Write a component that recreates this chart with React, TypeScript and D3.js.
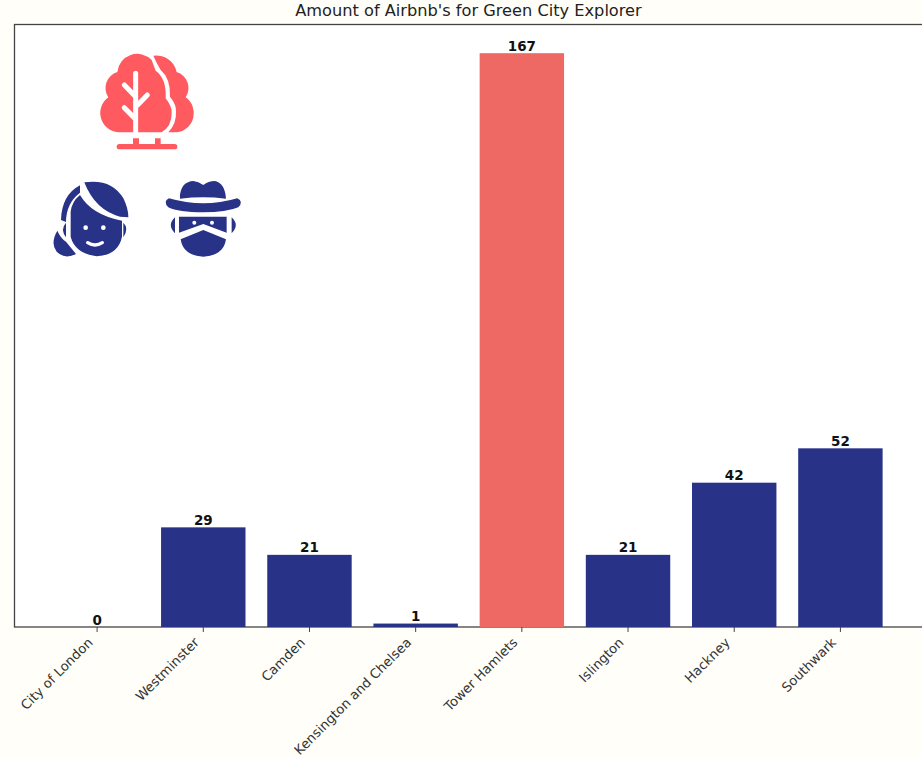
import * as d3 from 'd3';
import React, { useEffect, useRef } from 'react';

const boroughs = ['City of London', 'Westminster', 'Camden', 'Kensington and Chelsea', 'Tower Hamlets', 'Islington', 'Hackney', 'Southwark'];
const listings = [0, 29, 21, 1, 167, 21, 42, 52];
const highlighted = ['Tower Hamlets'];

const width = 922;
const height = 758;
const frame = { left: 14.5, top: 24.5, bottom: 627 };
const navy = '#283287';
const barRed = '#ee6864';
const iconRed = '#ff5a5f';
const font = '"DejaVu Sans", sans-serif';

const App: React.FC = () => {
  const svgRef = useRef<SVGSVGElement>(null);
  useEffect(() => {
    if (!svgRef.current) {
      return;
    }
    const svg = d3.select(svgRef.current);
    svg.selectAll('*').remove();

    const xScale = d3.scaleBand<string>().domain(boroughs).range([44, 893.5]).paddingInner(0.205).paddingOuter(0.1025);
    const yScale = d3.scaleLinear().domain([0, 175.35]).range([frame.bottom, frame.top]);

    svg.append('rect').attr('width', width).attr('height', height).attr('fill', '#fffef8');
    svg
      .append('rect')
      .attr('x', frame.left)
      .attr('y', frame.top)
      .attr('width', width - frame.left + 5)
      .attr('height', frame.bottom - frame.top)
      .attr('fill', '#ffffff')
      .attr('stroke', '#444444')
      .attr('stroke-width', 1.3);

    svg
      .selectAll('.bar')
      .data(listings)
      .enter()
      .append('rect')
      .attr('class', 'bar')
      .attr('x', (_, i) => xScale(boroughs[i])!)
      .attr('y', (d) => yScale(d))
      .attr('width', xScale.bandwidth())
      .attr('height', (d) => frame.bottom - yScale(d))
      .attr('fill', (_, i) => (highlighted.includes(boroughs[i]) ? barRed : navy));

    svg
      .selectAll('.bar-label')
      .data(listings)
      .enter()
      .append('text')
      .attr('class', 'bar-label')
      .attr('x', (_, i) => xScale(boroughs[i])! + xScale.bandwidth() / 2)
      .attr('y', (d) => yScale(d) - 2.5)
      .attr('text-anchor', 'middle')
      .attr('font-family', font)
      .attr('font-size', 13.5)
      .attr('font-weight', 'bold')
      .attr('fill', '#111111')
      .text((d) => d);

    const axis = svg
      .append('g')
      .attr('transform', `translate(0,${frame.bottom})`)
      .call(d3.axisBottom(xScale).tickSizeInner(5).tickSizeOuter(0).tickPadding(5));
    axis.select('.domain').remove();
    axis.selectAll('line').attr('stroke', '#444444');
    axis
      .selectAll<SVGTextElement, string>('text')
      .attr('font-family', font)
      .attr('font-size', 13.2)
      .attr('fill', '#333333')
      .attr('text-anchor', 'end')
      .attr('dx', -14)
      .attr('dy', -1)
      .attr('transform', 'rotate(-45)');

    svg
      .append('text')
      .attr('x', 468.5)
      .attr('y', 15.5)
      .attr('text-anchor', 'middle')
      .attr('font-family', font)
      .attr('font-size', 16.2)
      .attr('fill', '#222222')
      .text("Amount of Airbnb's for Green City Explorer");

    // icons were traced on the 3x crop, so scale them back down
    const icons = svg.append('g').attr('transform', 'translate(40,40) scale(0.3333)');

    const tree = icons.append('g').attr('fill', iconRed);
    tree.append('path').attr('d', 'M340 47 A62 62 0 0 1 410 96 A50 50 0 0 1 437 172 A58 58 0 0 1 410 277 L385 277 Q410 250 408 215 Q410 195 390 170 Q392 115 362 90 Q350 70 340 47 Z');
    tree.append('path').attr('d', 'M235 277 A58 58 0 0 1 205 172 A50 50 0 0 1 232 96 A60 60 0 0 1 335 60 L347 92 Q380 115 377 175 Q397 200 395 220 Q395 260 365 277 Z');
    tree
      .append('path')
      .attr('d', 'M287 100 V280 M287 170 L253 135 M293 195 L322 165 M287 238 L253 203')
      .attr('fill', 'none')
      .attr('stroke', '#ffffff')
      .attr('stroke-width', 15)
      .attr('stroke-linecap', 'round');
    tree.append('path').attr('d', 'M279 295 H297 V312 H279 Z M345 295 H362 V312 H345 Z');
    tree.append('rect').attr('x', 230).attr('y', 312).attr('width', 182).attr('height', 16).attr('rx', 8);

    const woman = icons.append('g').attr('fill', navy);
    woman.append('path').attr('d', 'M133 427 Q215 415 250 475 Q265 505 265 532 L240 530 Q165 510 133 427 Z');
    woman.append('path').attr('d', 'M120 436 Q65 465 63 540 L78 546 Q78 490 120 458 Z');
    woman.append('path').attr('d', 'M120 465 Q155 525 246 542 L246 590 Q235 645 170 649 Q105 640 92 590 L92 515 Q95 485 120 465 Z');
    woman.append('path').attr('d', 'M250 548 Q268 565 250 592 Z M78 548 Q60 568 78 592 Z');
    woman.append('path').attr('d', 'M52 572 Q30 610 50 635 Q75 660 108 642 L78 605 Q62 595 52 572 Z');
    woman.append('circle').attr('cx', 137).attr('cy', 563).attr('r', 7).attr('fill', '#ffffff');
    woman.append('circle').attr('cx', 190).attr('cy', 563).attr('r', 7).attr('fill', '#ffffff');
    woman
      .append('path')
      .attr('d', 'M143 608 Q165 622 187 608')
      .attr('fill', 'none')
      .attr('stroke', '#ffffff')
      .attr('stroke-width', 10)
      .attr('stroke-linecap', 'round');

    const man = icons.append('g').attr('fill', navy);
    man.append('path').attr('d', 'M420 476 L420 465 Q425 425 460 423 Q475 425 490 435 Q505 423 525 423 Q555 430 558 476 Q490 468 420 476 Z');
    man.append('path').attr('d', 'M387 475 Q490 505 592 475 Q612 485 595 502 Q560 517 490 517 Q415 517 385 502 Q368 485 387 475 Z');
    man.append('path').attr('d', 'M417 530 H560 V578 L490 552 L417 578 Z');
    man.append('path').attr('d', 'M422 598 L490 570 L558 598 Q550 648 490 650 Q430 648 422 598 Z');
    man.append('path').attr('d', 'M405 532 Q380 555 405 580 Z M575 532 Q600 555 575 580 Z');
    man.append('circle').attr('cx', 463).attr('cy', 548).attr('r', 6).attr('fill', '#ffffff');
    man.append('circle').attr('cx', 516).attr('cy', 548).attr('r', 6).attr('fill', '#ffffff');
  }, []);
  return (
    <svg
      ref={svgRef}
      width={width}
      height={height}
      style={{ position: 'absolute', left: 0, top: 0 }}
    />
  );
};

export default App;
